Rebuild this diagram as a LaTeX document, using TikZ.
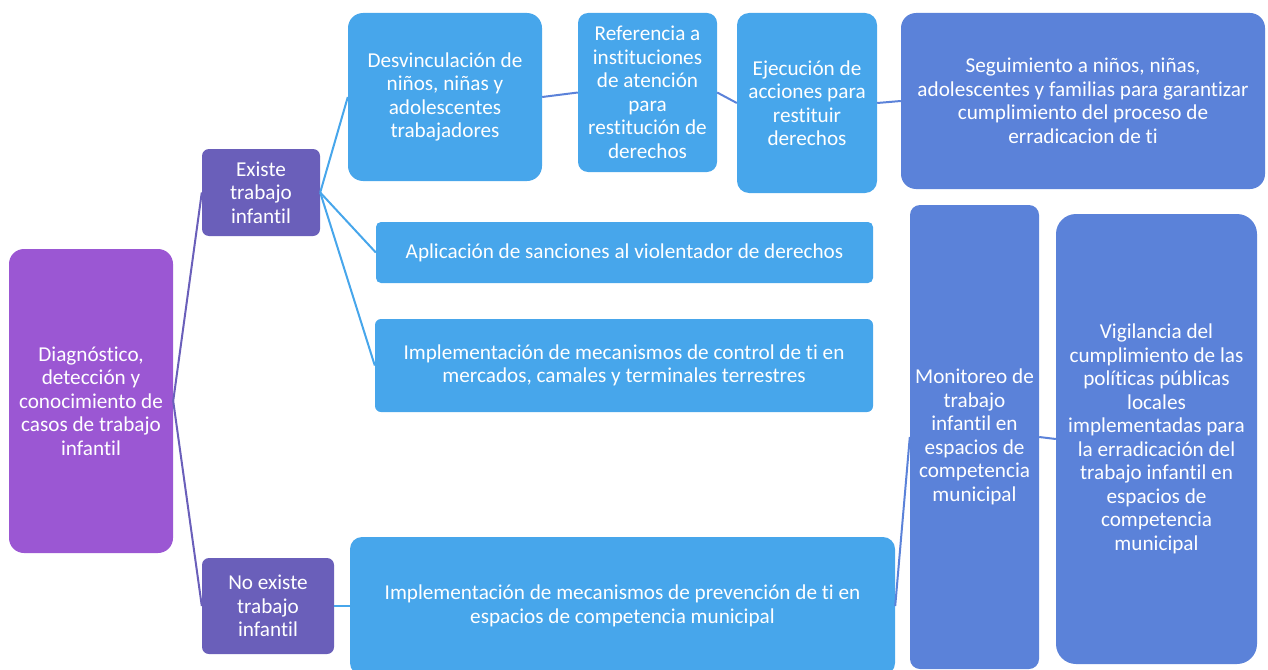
\documentclass[tikz,border=0pt]{standalone}
\usepackage{fontspec}
\setmainfont{Carlito}[Ligatures=NoCommon]
\definecolor{cpurple}{HTML}{9B57D3}
\definecolor{cindigo}{HTML}{6A5FBA}
\definecolor{clight}{HTML}{47A6EB}
\definecolor{cdark}{HTML}{5B82D9}
\begin{document}
\begin{tikzpicture}[x=1pt,y=-1pt,
  box/.style={draw=none, text=white, align=center, inner sep=0pt,
    font=\fontsize{21.2pt}{23.5pt}\selectfont},
  lline/.style={draw=clight, line width=2pt},
  dline/.style={draw=cdark, line width=2pt},
  pline/.style={draw=cindigo, line width=2pt}]
\useasboundingbox (0,0) rectangle (1268,669);
\begin{scope}
\clip (0,0) rectangle (1268,669);
\node[box, fill=cpurple, rounded corners=15pt, minimum width=164pt, minimum height=304pt] (diag) at (91,401)
  {Diagnóstico,\\detección y\\conocimiento de\\casos de trabajo\\infantil};
\node[box, fill=cindigo, rounded corners=7pt, minimum width=118pt, minimum height=87pt] (exist) at (261,192.5)
  {Existe\\trabajo\\infantil};
\node[box, fill=cindigo, rounded corners=7pt, minimum width=132pt, minimum height=96pt] (noex) at (268,606)
  {No existe\\trabajo\\infantil};
\node[box, fill=clight, rounded corners=15pt, minimum width=194pt, minimum height=168pt] (desv) at (445,97)
  {Desvinculación de\\niños, niñas y\\adolescentes\\trabajadores};
\node[box, fill=clight, rounded corners=10pt, minimum width=139pt, minimum height=159pt] (ref) at (647.5,92.5)
  {Referencia a\\instituciones\\de atención\\para\\restitución de\\derechos};
\node[box, fill=clight, rounded corners=12pt, minimum width=140pt, minimum height=180pt] (ejec) at (807,103)
  {Ejecución de\\acciones para\\restituir\\derechos};
\node[box, fill=cdark, rounded corners=15pt, minimum width=364pt, minimum height=176pt] (seg) at (1083,101)
  {Seguimiento a niños, niñas,\\adolescentes y familias para garantizar\\cumplimiento del proceso de\\erradicacion de ti};
\node[box, fill=clight, rounded corners=5pt, minimum width=497pt, minimum height=61pt] (apl) at (624.5,252.5)
  {Aplicación de sanciones al violentador de derechos};
\node[box, fill=clight, rounded corners=6pt, minimum width=498pt, minimum height=93pt] (ctrl) at (624,365.5)
  {Implementación de mecanismos de control de ti en\\mercados, camales y terminales terrestres};
\node[box, fill=clight, rounded corners=12pt, minimum width=545pt, minimum height=138pt] (prev) at (622.5,606)
  {Implementación de mecanismos de prevención de ti en\\espacios de competencia municipal};
\node[box, fill=cdark, rounded corners=10pt, minimum width=129pt, minimum height=464pt] (mon) at (974.5,437)
  {Monitoreo de\\trabajo\\infantil en\\espacios de\\competencia\\municipal};
\node[box, fill=cdark, rounded corners=20pt, minimum width=201pt, minimum height=450pt] (vig) at (1156.5,439)
  {Vigilancia del\\cumplimiento de las\\políticas públicas\\locales\\implementadas para\\la erradicación del\\trabajo infantil en\\espacios de\\competencia\\municipal};
\end{scope}
\draw[pline] (diag.east) -- (exist.west);
\draw[pline] (diag.east) -- (noex.west);
\draw[lline] (exist.east) -- (desv.west);
\draw[lline] (exist.east) -- (apl.west);
\draw[lline] (exist.east) -- (ctrl.west);
\draw[lline] (noex.east) -- (prev.west);
\draw[dline] (desv.east) -- (ref.west);
\draw[dline] (ref.east) -- (ejec.west);
\draw[dline] (ejec.east) -- (seg.west);
\draw[dline] (prev.east) -- (mon.west);
\draw[dline] (mon.east) -- (vig.west);
\end{tikzpicture}
\end{document}
